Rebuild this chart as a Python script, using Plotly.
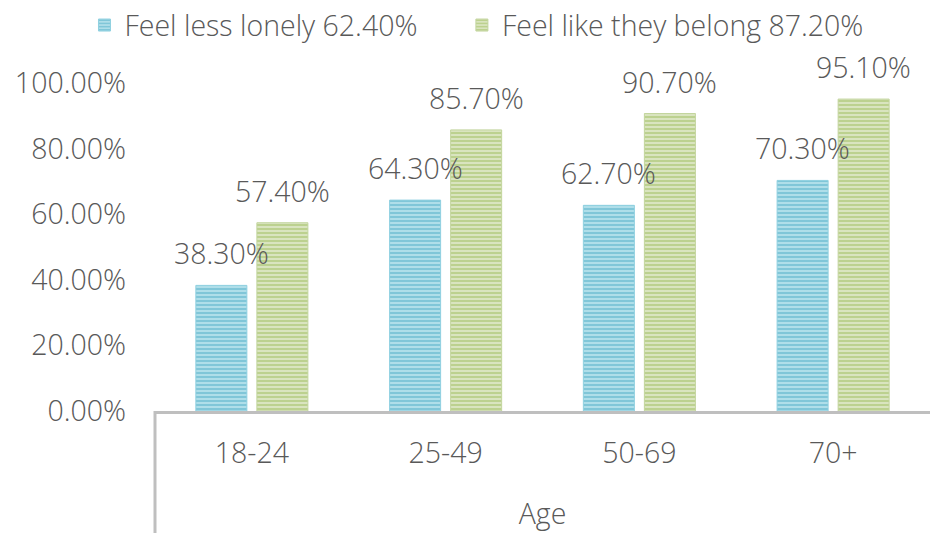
import plotly.graph_objects as go

# Survey results by age group
ages = ["18-24", "25-49", "50-69", "70+"]
less_lonely = [38.3, 64.3, 62.7, 70.3]
belong = [57.4, 85.7, 90.7, 95.1]
series_names = ["Feel less lonely 62.40%", "Feel like they belong 87.20%"]
y_ticks = [0, 20, 40, 60, 80, 100]

FONT = "Open Sans"
TXT = "#595959"
FS = 28.5
FW = 300

fig = go.Figure()
styles = [
    dict(fg="#4BACC6", bg="#B4E0EB", edge="#8FD0E0", legend="legend"),
    dict(fg="#9BBB59", bg="#DCE6C4", edge="#C3D59E", legend="legend2"),
]
for name, vals, st in zip(series_names, [less_lonely, belong], styles):
    fig.add_trace(go.Bar(
        x=ages, y=vals, name=name, legend=st["legend"],
        marker=dict(
            color=st["bg"],
            line=dict(color=st["edge"], width=1),
            pattern=dict(shape="-", fgcolor=st["fg"], bgcolor=st["bg"],
                         size=4, solidity=0.55, fillmode="overlay"),
        ),
        hoverinfo="skip",
    ))

# value labels above each bar
for i, vals in enumerate([less_lonely, belong]):
    for j, v in enumerate(vals):
        fig.add_annotation(
            x=ages[j], y=v, text=f"{v:.2f}%", showarrow=False,
            xref="x", yref="y", yanchor="bottom", yshift=11,
            xshift=(-30.5 if i == 0 else 30.5),
            font=dict(family=FONT, size=FS, color=TXT, weight=FW),
        )

# divider under the category axis
fig.add_shape(type="line", xref="paper", yref="paper",
              x0=0, x1=0, y0=0, y1=-0.4,
              line=dict(color="#BFBFBF", width=3))

legend_common = dict(orientation="h", xanchor="left", y=1.253, yanchor="top",
                     font=dict(family=FONT, size=FS, color=TXT, weight=FW),
                     itemwidth=30, bgcolor="rgba(0,0,0,0)")

fig.update_layout(
    width=930, height=533,
    margin=dict(l=155, r=0, t=83, b=122),
    paper_bgcolor="white", plot_bgcolor="white",
    barmode="group", bargap=0.37, bargroupgap=0.164,
    font=dict(family=FONT, size=FS, color=TXT, weight=FW),
    showlegend=True,
    legend=dict(x=-0.091, **legend_common),
    legend2=dict(x=0.396, **legend_common),
    xaxis=dict(
        showline=True, linecolor="#BFBFBF", linewidth=3,
        ticks="", tickfont=dict(size=FS, color=TXT, weight=FW),
        ticklabelstandoff=15,
        title=dict(text="Age", font=dict(size=FS, color=TXT, weight=FW), standoff=34),
    ),
    yaxis=dict(
        range=[0, 100], tickvals=y_ticks,
        ticktext=[f"{t:.2f}%" for t in y_ticks],
        showgrid=False, zeroline=False, showline=False,
        tickfont=dict(size=FS, color=TXT, weight=FW), ticklabelstandoff=28,
    ),
)

fig.write_html("out.html")
